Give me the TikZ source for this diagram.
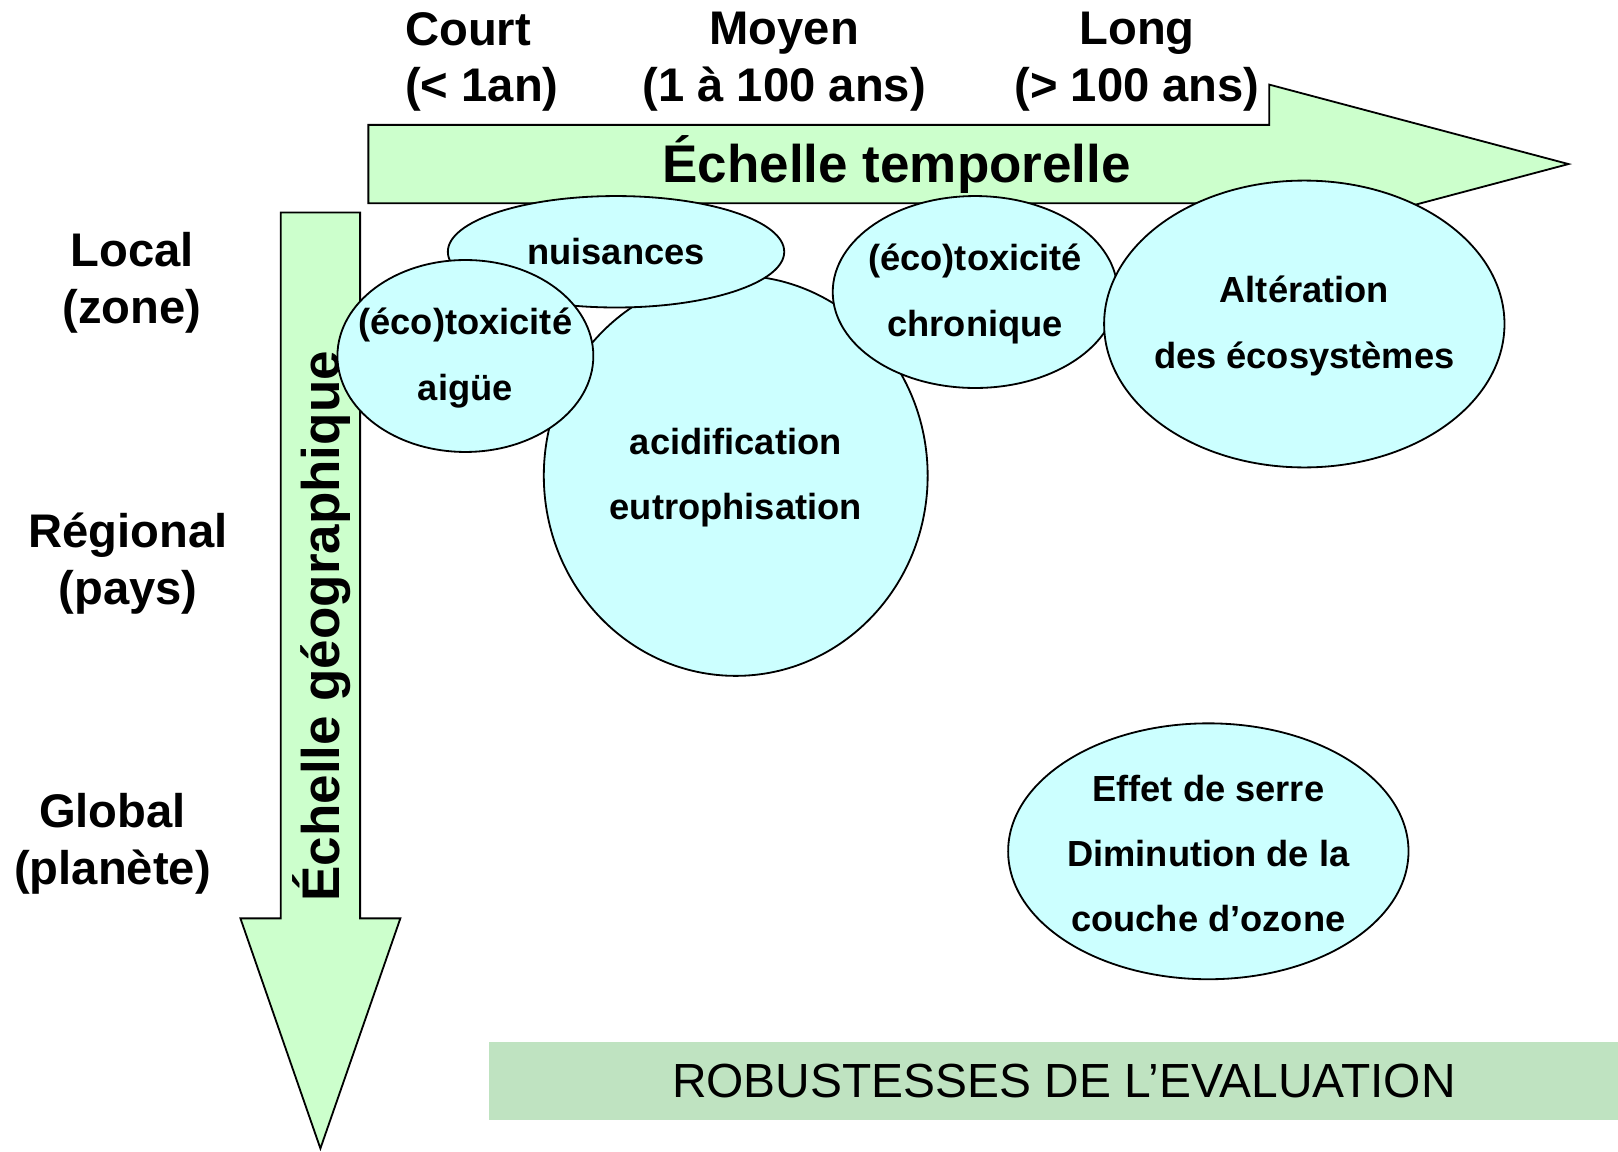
\documentclass[tikz,border=0pt]{standalone}
\usepackage{fontspec}
\setmainfont{Liberation Sans}
\definecolor{vertclair}{HTML}{CCFFCC}
\definecolor{cyanclair}{HTML}{CCFFFF}
\definecolor{vertbande}{HTML}{BFE3C1}

\begin{document}
\begin{tikzpicture}[x=0.01cm, y=-0.01cm,
		fleche/.style={draw=black, line width=0.5pt, fill=vertclair},
		bulle/.style={draw=black, line width=0.5pt, fill=cyanclair},
		impact/.style={inner sep=0pt, align=center, font=\fontsize{10}{18}\selectfont\bfseries},
		echelle/.style={inner sep=0pt, align=center, font=\fontsize{13}{15.6}\selectfont\bfseries},
		titre/.style={inner sep=0pt, font=\fontsize{14.6}{17}\selectfont\bfseries}]
				\useasboundingbox (0,0) rectangle (1568,1116);
				% fleches des echelles
				\draw[fleche] (357,121) -- (1230,121) -- (1230,82) -- (1520,159) -- (1230,236) -- (1230,197) -- (357,197) -- cycle;
				\node[titre, anchor=base] (temps) at (869,177) {Échelle temporelle};
				\draw[fleche] (272,206) -- (349,206) -- (349,890) -- (388,890) -- (310.5,1113) -- (233,890) -- (272,890) -- cycle;
				\node[titre, rotate=90] (geo) at (312,607) {Échelle géographique};
				% echelles de temps
				\node[echelle, align=left, anchor=west] (court) at (392,60) {Court\\(< 1an)};
				\node[echelle] (moyen) at (760,60) {Moyen\\(1 à 100 ans)};
				\node[echelle] (long) at (1102,60) {Long\\(> 100 ans)};
				% echelles d'espace
				\node[echelle] (local) at (128,274) {Local\\(zone)};
				\node[echelle] (regional) at (124,546) {Régional\\(pays)};
				\node[echelle] (global) at (109,818) {Global\\(planète)};
				% impacts
				\draw[bulle] (713,461) ellipse [x radius=186, y radius=194];
				\node[impact] (acid) at (713,463) {acidification\\eutrophisation};
				\draw[bulle] (597,244) ellipse [x radius=163, y radius=54];
				\node[impact] (nuis) at (597,244) {nuisances};
				\draw[bulle] (451,345) ellipse [x radius=124, y radius=93];
				\node[impact] (aigue) at (451,347) {(éco)toxicité\\aigüe};
				\draw[bulle] (945,283) ellipse [x radius=138, y radius=93];
				\node[impact] (chron) at (945,285) {(éco)toxicité\\chronique};
				\draw[bulle] (1264,314) ellipse [x radius=194, y radius=139];
				\node[impact] (alter) at (1264,316) {Altération\\des écosystèmes};
				\draw[bulle] (1171,825) ellipse [x radius=194, y radius=124];
				\node[impact] (serre) at (1171,827) {Effet de serre\\Diminution de la\\couche d’ozone};
				% bandeau
				\node[fill=vertbande, inner sep=0pt, minimum width=11.14cm, minimum height=0.75cm,
					font=\fontsize{13.2}{16}\selectfont] (robust) at (1031,1047.5) {ROBUSTESSES DE L’EVALUATION};
			\end{tikzpicture}
\end{document}
